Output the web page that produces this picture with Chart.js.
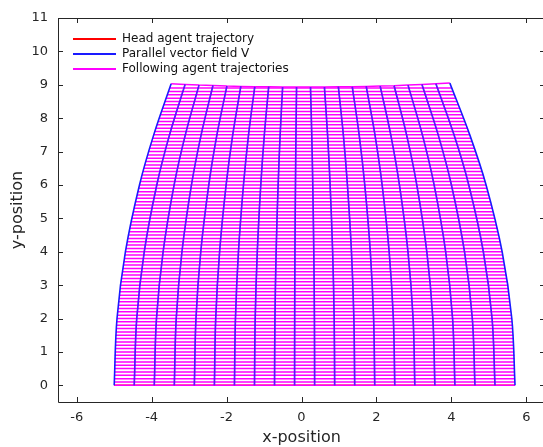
<!DOCTYPE html>
<html><head><meta charset="utf-8">
<script src="https://cdn.jsdelivr.net/npm/chart.js@4.4.0/dist/chart.umd.min.js"></script>
<style>
html,body{margin:0;padding:0;background:#fff;overflow:hidden;}
#wrap{width:543px;height:447px;overflow:hidden;position:relative;background:#fff;}
canvas{display:block;}
</style></head><body>
<div id="wrap"><canvas id="c" width="550" height="447"></canvas></div>
<script>
// ---------- data ----------
const xTicks = [-6, -4, -2, 0, 2, 4, 6];
const yTicks = [0, 1, 2, 3, 4, 5, 6, 7, 8, 9, 10, 11];
const legendLabels = ['Head agent trajectory', 'Parallel vector field V', 'Following agent trajectories'];

// head agent trajectory (bottom edge)
const headX = [-5.0, 5.7];
const headY = [0, 0];

// vector-field / trajectory curves: x sampled at these y levels, then the end point
const trajLevelY = [0, 2, 4, 6, 7.5];
const trajX_y0  = [-5.000,-4.465,-3.930,-3.395,-2.860,-2.325,-1.790,-1.255,-0.720,-0.185,0.350,0.885,1.420,1.955,2.490,3.025,3.560,4.095,4.630,5.165,5.700];
const trajX_y2  = [-4.925,-4.398,-3.871,-3.344,-2.817,-2.290,-1.763,-1.236,-0.709,-0.182,0.345,0.872,1.398,1.925,2.452,2.979,3.506,4.033,4.560,5.087,5.614];
const trajX_y4  = [-4.700,-4.197,-3.694,-3.191,-2.689,-2.186,-1.683,-1.180,-0.677,-0.175,0.328,0.831,1.334,1.837,2.340,2.842,3.345,3.848,4.351,4.854,5.356];
const trajX_y6  = [-4.325,-3.863,-3.400,-2.937,-2.475,-2.012,-1.549,-1.087,-0.624,-0.161,0.301,0.764,1.226,1.689,2.152,2.614,3.077,3.540,4.002,4.465,4.927];
const trajX_y75 = [-3.945,-3.523,-3.101,-2.679,-2.258,-1.836,-1.414,-0.992,-0.570,-0.148,0.274,0.696,1.117,1.539,1.961,2.383,2.805,3.227,3.649,4.071,4.492];
const trajXEnd  = [-3.480,-3.108,-2.736,-2.364,-1.992,-1.620,-1.248,-0.876,-0.504,-0.132,0.240,0.612,0.984,1.356,1.728,2.100,2.472,2.844,3.216,3.588,3.960];
const trajYEnd  = [9.03,9.01,8.99,8.98,8.96,8.95,8.94,8.94,8.93,8.93,8.93,8.93,8.94,8.94,8.95,8.96,8.97,8.99,9.01,9.03,9.05];

// following agents' formation rows
const rowY = [0.0,0.1,0.2,0.3,0.4,0.5,0.6,0.7,0.8,0.9,
1.0,1.1,1.2,1.3,1.4,1.5,1.6,1.7,1.8,1.9,
2.0,2.1,2.2,2.3,2.4,2.5,2.6,2.7,2.8,2.9,
3.0,3.1,3.2,3.3,3.4,3.5,3.6,3.7,3.8,3.9,
4.0,4.1,4.2,4.3,4.4,4.5,4.6,4.7,4.8,4.9,
5.0,5.1,5.2,5.3,5.4,5.5,5.6,5.7,5.8,5.9,
6.0,6.1,6.2,6.3,6.4,6.5,6.6,6.7,6.8,6.9,
7.0,7.1,7.2,7.3,7.4,7.5,7.6,7.7,7.8,7.9,
8.0,8.1,8.2,8.3,8.4,8.5,8.6,8.7,8.8,8.9];
const rowLeftX = [-5.000,-5.000,-4.999,-4.998,-4.997,-4.995,-4.993,-4.991,-4.988,-4.985,
-4.981,-4.977,-4.973,-4.968,-4.963,-4.958,-4.952,-4.946,-4.939,-4.932,
-4.925,-4.917,-4.909,-4.901,-4.892,-4.883,-4.873,-4.863,-4.853,-4.842,
-4.831,-4.820,-4.808,-4.796,-4.783,-4.770,-4.757,-4.743,-4.729,-4.715,
-4.700,-4.685,-4.669,-4.653,-4.637,-4.620,-4.603,-4.585,-4.568,-4.549,
-4.531,-4.512,-4.493,-4.473,-4.453,-4.432,-4.412,-4.390,-4.369,-4.347,
-4.324,-4.302,-4.279,-4.255,-4.231,-4.207,-4.183,-4.158,-4.132,-4.107,
-4.081,-4.054,-4.027,-4.000,-3.972,-3.944,-3.916,-3.887,-3.858,-3.829,
-3.799,-3.769,-3.738,-3.707,-3.676,-3.644,-3.612,-3.580,-3.547,-3.514];
const rowRightX = [5.700,5.700,5.699,5.698,5.697,5.695,5.692,5.689,5.686,5.683,
5.679,5.674,5.669,5.664,5.658,5.652,5.645,5.638,5.630,5.622,
5.614,5.605,5.596,5.586,5.576,5.566,5.555,5.543,5.532,5.519,
5.507,5.494,5.480,5.466,5.452,5.437,5.422,5.406,5.390,5.373,
5.356,5.339,5.321,5.303,5.284,5.265,5.245,5.225,5.205,5.184,
5.163,5.141,5.119,5.097,5.074,5.050,5.026,5.002,4.977,4.952,
4.927,4.901,4.874,4.847,4.820,4.792,4.764,4.736,4.707,4.677,
4.647,4.617,4.586,4.555,4.524,4.492,4.459,4.426,4.393,4.359,
4.325,4.291,4.256,4.220,4.184,4.148,4.111,4.074,4.037,3.998];

// ---------- styles ----------
const RED = '#ff0000', BLUE = '#1a1aff', MAGENTA = '#ff00ff';
const legendColors = [RED, BLUE, MAGENTA];
const FONT = 'DejaVu Sans';
const AXIS = '#262626';

// ---------- datasets ----------
const datasets = [];
datasets.push({ data: headX.map((x, i) => ({ x, y: headY[i] })), borderColor: RED, borderWidth: 1.6, order: 40 });
rowY.forEach((y, i) => {
  datasets.push({ data: [{ x: rowLeftX[i], y }, { x: rowRightX[i], y }], borderColor: MAGENTA, borderWidth: 1.5, order: 30 });
});
datasets.push({ data: trajXEnd.map((x, i) => ({ x, y: trajYEnd[i] })), borderColor: MAGENTA, borderWidth: 1.5, order: 30 });
const trajCols = [trajX_y0, trajX_y2, trajX_y4, trajX_y6, trajX_y75];
trajXEnd.forEach((xe, i) => {
  const pts = trajLevelY.map((y, k) => ({ x: trajCols[k][i], y }));
  pts.push({ x: xe, y: trajYEnd[i] });
  datasets.push({ data: pts, borderColor: BLUE, borderWidth: 1.6, tension: 0.35, order: 20 });
  if (i > 0 && i < trajXEnd.length - 1) {
    datasets.push({ data: pts, borderColor: 'rgba(200,0,255,0.45)', borderWidth: 1.2, tension: 0.35, order: 10 });
  }
});

// ---------- plugins ----------
const framePlugin = {
  id: 'frame',
  afterLayout(chart) {
    chart.legend.left = chart.chartArea.left + 12;
    chart.legend.top = chart.chartArea.top + 12;
  },
  afterDatasetsDraw(chart) {
    const { ctx, chartArea: a, scales: { x, y } } = chart;
    ctx.save();
    ctx.strokeStyle = AXIS;
    ctx.lineWidth = 1;
    ctx.beginPath();
    ctx.rect(Math.round(a.left) + 0.5, Math.round(a.top) + 0.5, Math.round(a.right - a.left), Math.round(a.bottom - a.top));
    const L = 5;
    x.ticks.forEach(t => {
      const px = Math.round(x.getPixelForValue(t.value)) + 0.5;
      ctx.moveTo(px, a.bottom); ctx.lineTo(px, a.bottom - L);
      ctx.moveTo(px, a.top); ctx.lineTo(px, a.top + L);
    });
    y.ticks.forEach(t => {
      const py = Math.round(y.getPixelForValue(t.value)) + 0.5;
      ctx.moveTo(a.left, py); ctx.lineTo(a.left + L, py);
      ctx.moveTo(a.right, py); ctx.lineTo(a.right - L, py);
    });
    ctx.stroke();
    ctx.restore();
  }
};

new Chart(document.getElementById('c'), {
  type: 'line',
  data: { datasets },
  plugins: [framePlugin],
  options: {
    responsive: false,
    animation: false,
    devicePixelRatio: 1,
    events: [],
    layout: { padding: { left: 0, top: 18, right: 5, bottom: 0 } },
    elements: { point: { radius: 0, hoverRadius: 0 }, line: { fill: false, borderCapStyle: 'butt' } },
    scales: {
      x: {
        type: 'linear', min: -6.5, max: 6.5,
        afterBuildTicks: s => { s.ticks = xTicks.map(v => ({ value: v })); },
        afterFit: s => { s.height = 45; },
        grid: { display: false, drawTicks: false },
        border: { display: false },
        ticks: { color: AXIS, font: { family: FONT, size: 13 }, padding: 8, maxRotation: 0 },
        title: { display: true, text: 'x-position', color: AXIS, font: { family: FONT, size: 16 }, padding: { top: 0, bottom: 0 } }
      },
      y: {
        type: 'linear', min: -0.5, max: 11,
        afterBuildTicks: s => { s.ticks = yTicks.map(v => ({ value: v })); },
        afterFit: s => { s.width = 58; },
        grid: { display: false, drawTicks: false },
        border: { display: false },
        ticks: { color: AXIS, font: { family: FONT, size: 13 }, padding: 10 },
        title: { display: true, text: 'y-position', color: AXIS, font: { family: FONT, size: 16 }, padding: { top: 8, bottom: 0 } }
      }
    },
    plugins: {
      tooltip: { enabled: false },
      legend: {
        position: 'chartArea', align: 'start',
        onClick: () => {},
        labels: {
          usePointStyle: true, pointStyle: 'line', pointStyleWidth: 43, padding: 3,
          color: '#111', font: { family: FONT, size: 12 },
          generateLabels: () => legendLabels.map((t, i) => ({
            text: t, strokeStyle: legendColors[i], fillStyle: legendColors[i],
            lineWidth: 2, pointStyle: 'line', hidden: false, datasetIndex: i, fontColor: '#111'
          }))
        }
      }
    }
  }
});
</script>
</body></html>
